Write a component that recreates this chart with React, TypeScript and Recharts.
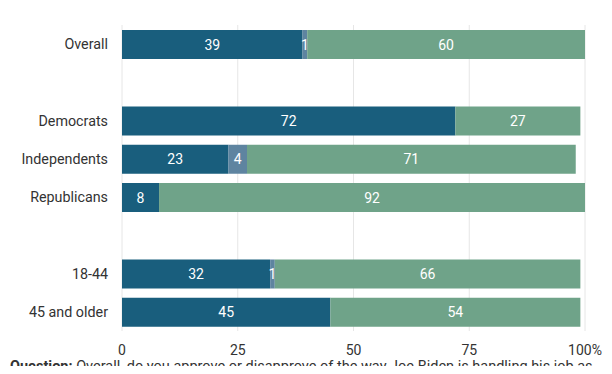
import React from 'react';
import { BarChart, Bar, XAxis, YAxis, CartesianGrid, LabelList } from 'recharts';

const categories = ['Overall', '', 'Democrats', 'Independents', 'Republicans', ' ', '18-44', '45 and older'];
const approve = [39, null, 72, 23, 8, null, 32, 45];
const noAnswer = [1, null, 0, 4, 0, null, 1, 0];
const disapprove = [60, null, 27, 71, 92, null, 66, 54];
const xTicks = [0, 25, 50, 75, 100];

const data = categories.map((c, i) => ({
  name: c,
  approve: approve[i],
  noAnswer: noAnswer[i],
  disapprove: disapprove[i],
}));

const COLORS = { approve: '#195e7d', noAnswer: '#5e84a0', disapprove: '#6fa389' };
const FONT = 'Roboto, "Noto Sans", sans-serif';

const renderLabel = (props: any) => {
  const { x, y, width, height, value } = props;
  if (value === null || value === undefined || value === 0) return null;
  return (
    <text
      x={Number(x) + Number(width) / 2}
      y={Number(y) + Number(height) / 2}
      fill="#ffffff"
      fontSize={14}
      fontFamily={FONT}
      textAnchor="middle"
      dominantBaseline="central"
    >
      {value}
    </text>
  );
};

export default function App() {
  return (
    <div
      style={{
        position: 'relative',
        width: 612,
        height: 374,
        margin: -8,
        overflow: 'hidden',
        background: '#ffffff',
        fontFamily: FONT,
      }}
    >
      <div style={{ position: 'absolute', left: 0, top: 0, width: 1, height: 374, background: '#e6e6e6' }} />
      <div style={{ position: 'absolute', left: 610, top: 0, width: 1, height: 374, background: '#e6e6e6' }} />
      <BarChart
        width={612}
        height={374}
        data={data}
        layout="vertical"
        margin={{ top: 25, right: 27, bottom: 13, left: 0 }}
        barSize={29}
      >
        <CartesianGrid horizontal={false} stroke="#e6e6e6" />
        <XAxis
          type="number"
          domain={[0, 100]}
          ticks={xTicks}
          axisLine={false}
          tickLine={false}
          tickSize={0}
          tickMargin={14}
          height={30}
          interval={0}
          tick={{ fill: '#333333', fontSize: 14, fontFamily: FONT }}
          tickFormatter={(v: number) => (v === 100 ? '100%' : String(v))}
        />
        <YAxis
          type="category"
          dataKey="name"
          width={122}
          axisLine={false}
          tickLine={false}
          tickSize={0}
          tickMargin={14}
          interval={0}
          tick={{ fill: '#333333', fontSize: 14.3, fontFamily: FONT }}
        />
        <Bar dataKey="approve" stackId="a" fill={COLORS.approve} isAnimationActive={false}>
          <LabelList dataKey="approve" content={renderLabel} />
        </Bar>
        <Bar dataKey="noAnswer" stackId="a" fill={COLORS.noAnswer} isAnimationActive={false}>
          <LabelList dataKey="noAnswer" content={renderLabel} />
        </Bar>
        <Bar dataKey="disapprove" stackId="a" fill={COLORS.disapprove} isAnimationActive={false}>
          <LabelList dataKey="disapprove" content={renderLabel} />
        </Bar>
      </BarChart>
      <div
        style={{
          position: 'absolute',
          left: 10,
          top: 358,
          fontSize: 14.5,
          lineHeight: '18px',
          color: '#333333',
          whiteSpace: 'nowrap',
        }}
      >
        <b>Question:</b> Overall, do you approve or disapprove of the way Joe Biden is handling his job as
      </div>
    </div>
  );
}
